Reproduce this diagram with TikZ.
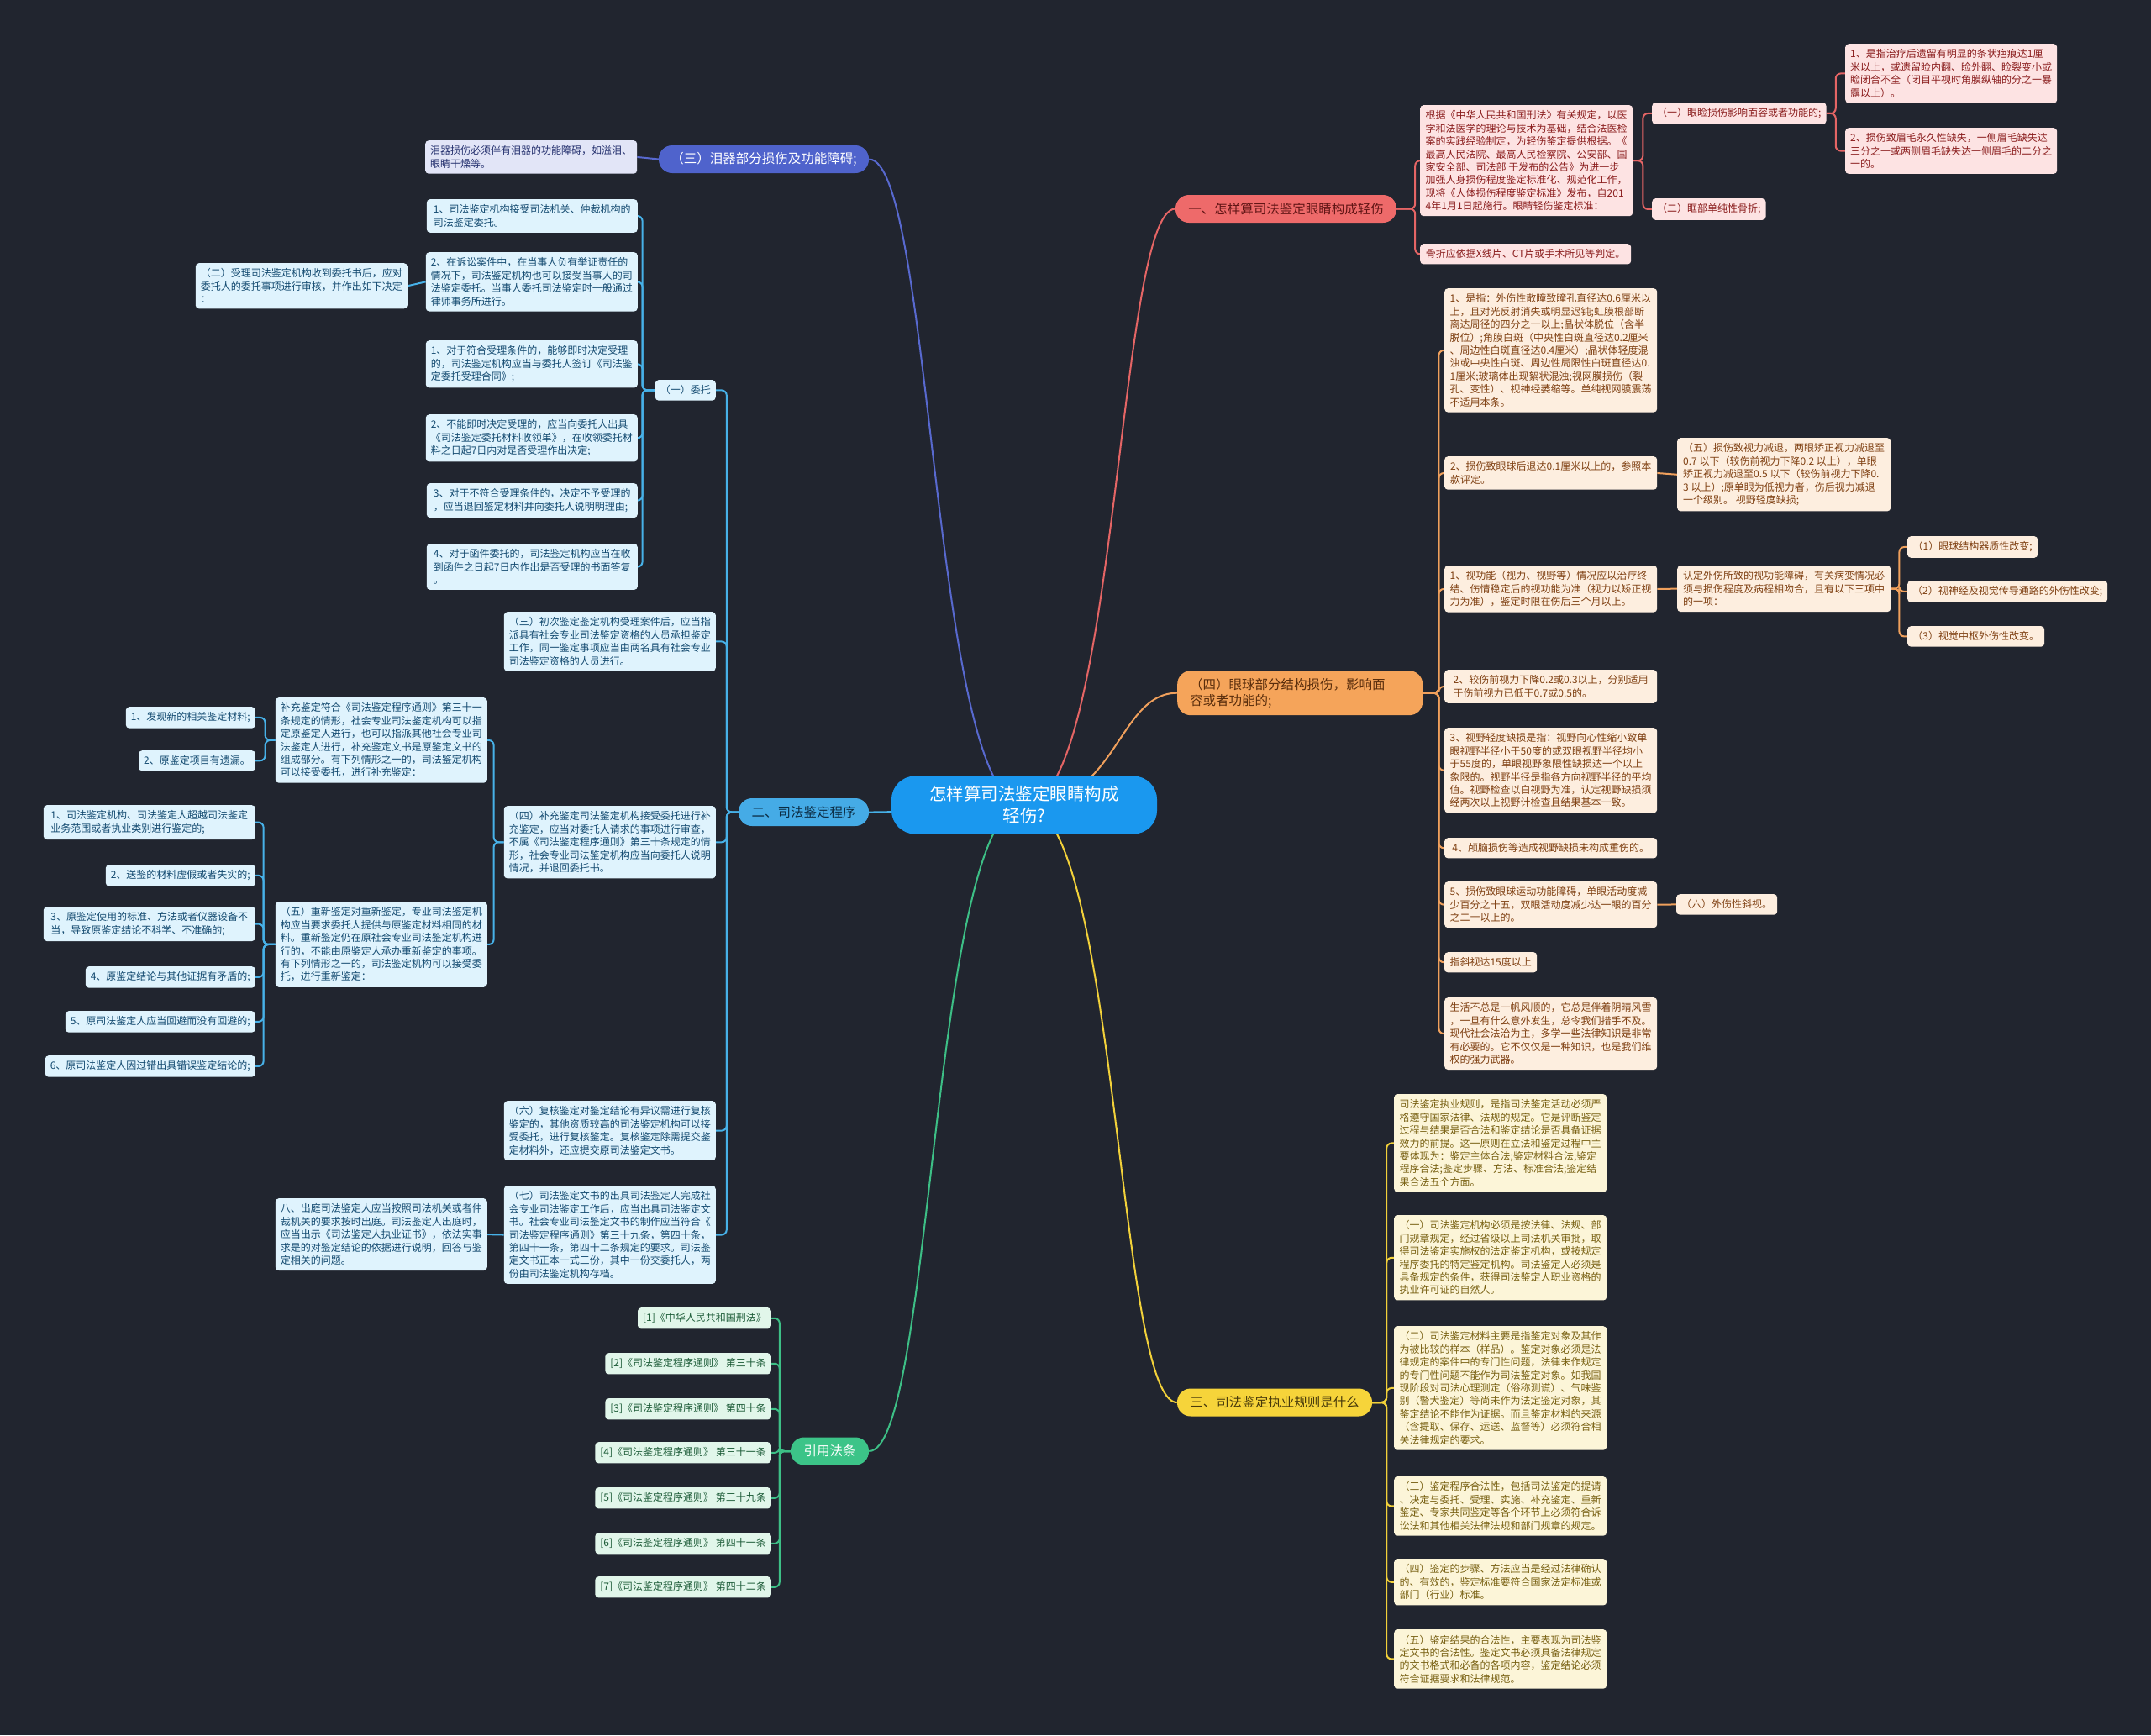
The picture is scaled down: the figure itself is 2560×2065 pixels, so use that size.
\documentclass[tikz,border=0pt]{standalone}
\usepackage{fontspec}
\setmainfont{Noto Sans CJK SC}
\usetikzlibrary{calc}
\pgfdeclarelayer{back}
\pgfdeclarelayer{bg}
\pgfsetlayers{back,bg,main}
\definecolor{bgc}{HTML}{21252F}
\definecolor{rootF}{HTML}{1A98EF}
\definecolor{redC}{HTML}{E56565}
\definecolor{redF}{HTML}{EE6A6A}
\definecolor{pinkF}{HTML}{FDE3E3}
\definecolor{pinkT}{HTML}{8B1E1E}
\definecolor{oraC}{HTML}{F0A05C}
\definecolor{oraF}{HTML}{F5A45A}
\definecolor{peachF}{HTML}{FDEEDF}
\definecolor{peachT}{HTML}{7F4012}
\definecolor{yelC}{HTML}{F2D13A}
\definecolor{yelF}{HTML}{F6D43A}
\definecolor{creamF}{HTML}{FCF5D8}
\definecolor{creamT}{HTML}{786012}
\definecolor{indC}{HTML}{5869CF}
\definecolor{indF}{HTML}{4F63CC}
\definecolor{lavF}{HTML}{E2E5F7}
\definecolor{lavT}{HTML}{24306E}
\definecolor{bluC}{HTML}{47B1E8}
\definecolor{bluF}{HTML}{45ABE6}
\definecolor{cyanF}{HTML}{DFF3FD}
\definecolor{cyanT}{HTML}{134A70}
\definecolor{grnC}{HTML}{3DBF86}
\definecolor{grnF}{HTML}{3CC488}
\definecolor{mintF}{HTML}{E1F6EA}
\definecolor{mintT}{HTML}{1D5C38}
\tikzset{
  leaf/.style={rounded corners=4pt, inner xsep=6pt, inner ysep=6.5pt, align=left,
    font=\fontsize{12}{15.4}\selectfont},
  lR/.style={leaf, fill=pinkF, text=pinkT},
  lO/.style={leaf, fill=peachF, text=peachT},
  lY/.style={leaf, fill=creamF, text=creamT},
  lI/.style={leaf, fill=lavF, text=lavT},
  lB/.style={leaf, fill=cyanF, text=cyanT},
  lG/.style={leaf, fill=mintF, text=mintT},
  brn/.style={rounded corners=16pt, minimum height=33pt, inner xsep=8pt, align=center,
    font=\fontsize{15.5}{19}\selectfont},
  con/.style={line width=2pt, rounded corners=6pt},
  cR/.style={con, draw=redC}, cO/.style={con, draw=oraC}, cY/.style={con, draw=yelC},
  cI/.style={con, draw=indC}, cB/.style={con, draw=bluC}, cG/.style={con, draw=grnC},
}
\begin{document}
\begin{tikzpicture}[x=1pt,y=-1pt]
\begin{pgfonlayer}{back}
\fill[bgc] (0,0) rectangle (2560,2065);
\end{pgfonlayer}
\useasboundingbox (0,0) rectangle (2560,2065);

% root
\node[fill=rootF, text=white, rounded corners=28pt, minimum width=316pt, minimum height=69pt,
  align=center, font=\fontsize{20.5}{26}\selectfont] (root) at (1219,958) {怎样算司法鉴定眼睛构成\\轻伤?};

% main branches
\node[brn, fill=redF, text=pinkT!70!black, minimum width=263pt] (b1) at (1530.5,248.5) {一、怎样算司法鉴定眼睛构成轻伤};
\node[brn, anchor=north west, fill=oraF, text=peachT!70!black, text width=262pt, align=left, inner xsep=15pt, minimum height=53pt] (b4) at (1401,798) {（四）眼球部分结构损伤，影响面\\容或者功能的;};
\node[brn, fill=yelF, text=creamT!60!black, minimum width=232pt] (b3) at (1517,1669) {三、司法鉴定执业规则是什么};
\node[brn, fill=indF, text=white, minimum width=250pt] (bL) at (909,189.5) {（三）泪器部分损伤及功能障碍;};
\node[brn, fill=bluF, text=cyanT!60!black, minimum width=155pt] (b2) at (956.5,966.5) {二、司法鉴定程序};
\node[brn, fill=grnF, text=white, minimum width=93pt] (bR) at (987.5,1727) {引用法条};

% ---- branch 一
\node[lR, anchor=north west, minimum width=253pt] (a1) at (1690,125) {根据《中华人民共和国刑法》有关规定，以医\\学和法医学的理论与技术为基础，结合法医检\\案的实践经验制定，为轻伤鉴定提供根据。《\\最高人民法院、最高人民检察院、公安部、国\\家安全部、司法部 于发布的公告》为进一步\\加强人身损伤程度鉴定标准化、规范化工作，\\现将《人体损伤程度鉴定标准》发布，自201\\4年1月1日起施行。眼睛轻伤鉴定标准：};
\node[lR, anchor=north west, minimum width=251pt] (a2) at (1690,290) {骨折应依据X线片、CT片或手术所见等判定。};
\node[lR, anchor=north west, minimum width=206pt] (a3) at (1966,122) {（一）眼睑损伤影响面容或者功能的;};
\node[lR, anchor=north west, minimum width=135pt] (a4) at (1966,236) {（二）眶部单纯性骨折;};
\node[lR, anchor=north west, minimum width=252pt] (a5) at (2196,52) {1、是指治疗后遗留有明显的条状疤痕达1厘\\米以上，或遗留睑内翻、睑外翻、睑裂变小或\\睑闭合不全（闭目平视时角膜纵轴的分之一暴\\露以上）。};
\node[lR, anchor=north west, minimum width=252pt] (a6) at (2196,152) {2、损伤致眉毛永久性缺失，一侧眉毛缺失达\\三分之一或两侧眉毛缺失达一侧眉毛的二分之\\一的。};

% ---- branch 四
\node[lO, anchor=north west, minimum width=253pt] (d1) at (1719,343) {1、是指：外伤性散瞳致瞳孔直径达0.6厘米以\\上，且对光反射消失或明显迟钝;虹膜根部断\\离达周径的四分之一以上;晶状体脱位（含半\\脱位）;角膜白斑（中央性白斑直径达0.2厘米\\、周边性白斑直径达0.4厘米）;晶状体轻度混\\浊或中央性白斑、周边性局限性白斑直径达0.\\1厘米;玻璃体出现絮状混浊;视网膜损伤（裂\\孔、变性）、视神经萎缩等。单纯视网膜震荡\\不适用本条。};
\node[lO, anchor=north west, minimum width=253pt] (d2) at (1719,543) {2、损伤致眼球后退达0.1厘米以上的，参照本\\款评定。};
\node[lO, anchor=north west, minimum width=254pt] (d2a) at (1996,521) {（五）损伤致视力减退，两眼矫正视力减退至\\0.7 以下（较伤前视力下降0.2 以上），单眼\\矫正视力减退至0.5 以下（较伤前视力下降0.\\3 以上）;原单眼为低视力者，伤后视力减退\\一个级别。 视野轻度缺损;};
\node[lO, anchor=north west, minimum width=253pt] (d3) at (1719,673) {1、视功能（视力、视野等）情况应以治疗终\\结、伤情稳定后的视功能为准（视力以矫正视\\力为准），鉴定时限在伤后三个月以上。};
\node[lO, anchor=north west, minimum width=254pt] (d3a) at (1996,673) {认定外伤所致的视功能障碍，有关病变情况必\\须与损伤程度及病程相吻合，且有以下三项中\\的一项：};
\node[lO, anchor=north west, minimum width=155pt] (d3b) at (2270,638) {（1）眼球结构器质性改变;};
\node[lO, anchor=north west, minimum width=237pt] (d3c) at (2270,691) {（2）视神经及视觉传导通路的外伤性改变;};
\node[lO, anchor=north west, minimum width=163pt] (d3d) at (2270,745) {（3）视觉中枢外伤性改变。};
\node[lO, anchor=north west, minimum width=253pt] (d4) at (1719,797) {2、较伤前视力下降0.2或0.3以上，分别适用\\于伤前视力已低于0.7或0.5的。};
\node[lO, anchor=north west, minimum width=253pt] (d5) at (1719,866) {3、视野轻度缺损是指：视野向心性缩小致单\\眼视野半径小于50度的或双眼视野半径均小\\于55度的，单眼视野象限性缺损达一个以上\\象限的。视野半径是指各方向视野半径的平均\\值。视野检查以白视野为准，认定视野缺损须\\经两次以上视野计检查且结果基本一致。};
\node[lO, anchor=north west, minimum width=253pt] (d6) at (1719,997) {4、颅脑损伤等造成视野缺损未构成重伤的。};
\node[lO, anchor=north west, minimum width=253pt] (d7) at (1719,1049) {5、损伤致眼球运动功能障碍，单眼活动度减\\少百分之十五，双眼活动度减少达一眼的百分\\之二十以上的。};
\node[lO, anchor=north west, minimum width=120pt] (d7a) at (1995,1064) {（六）外伤性斜视。};
\node[lO, anchor=north west, minimum width=110pt] (d8) at (1719,1133) {指斜视达15度以上};
\node[lO, anchor=north west, minimum width=253pt] (d9) at (1719,1187) {生活不总是一帆风顺的，它总是伴着阴晴风雪\\，一旦有什么意外发生，总令我们措手不及。\\现代社会法治为主，多学一些法律知识是非常\\有必要的。它不仅仅是一种知识，也是我们维\\权的强力武器。};

% ---- branch 三
\node[lY, anchor=north west, minimum width=253pt] (y1) at (1659,1302) {司法鉴定执业规则，是指司法鉴定活动必须严\\格遵守国家法律、法规的规定。它是评断鉴定\\过程与结果是否合法和鉴定结论是否具备证据\\效力的前提。这一原则在立法和鉴定过程中主\\要体现为：鉴定主体合法;鉴定材料合法;鉴定\\程序合法;鉴定步骤、方法、标准合法;鉴定结\\果合法五个方面。};
\node[lY, anchor=north west, minimum width=253pt] (y2) at (1659,1446) {（一）司法鉴定机构必须是按法律、法规、部\\门规章规定，经过省级以上司法机关审批，取\\得司法鉴定实施权的法定鉴定机构，或按规定\\程序委托的特定鉴定机构。司法鉴定人必须是\\具备规定的条件，获得司法鉴定人职业资格的\\执业许可证的自然人。};
\node[lY, anchor=north west, minimum width=253pt] (y3) at (1659,1578) {（二）司法鉴定材料主要是指鉴定对象及其作\\为被比较的样本（样品）。鉴定对象必须是法\\律规定的案件中的专门性问题，法律未作规定\\的专门性问题不能作为司法鉴定对象。如我国\\现阶段对司法心理测定（俗称测谎）、气味鉴\\别（警犬鉴定）等尚未作为法定鉴定对象，其\\鉴定结论不能作为证据。而且鉴定材料的来源\\（含提取、保存、运送、监督等）必须符合相\\关法律规定的要求。};
\node[lY, anchor=north west, minimum width=253pt] (y4) at (1659,1757) {（三）鉴定程序合法性，包括司法鉴定的提请\\、决定与委托、受理、实施、补充鉴定、重新\\鉴定、专家共同鉴定等各个环节上必须符合诉\\讼法和其他相关法律法规和部门规章的规定。};
\node[lY, anchor=north west, minimum width=253pt] (y5) at (1659,1855) {（四）鉴定的步骤、方法应当是经过法律确认\\的、有效的，鉴定标准要符合国家法定标准或\\部门（行业）标准。};
\node[lY, anchor=north west, minimum width=253pt] (y6) at (1659,1939) {（五）鉴定结果的合法性，主要表现为司法鉴\\定文书的合法性。鉴定文书必须具备法律规定\\的文书格式和必备的各项内容，鉴定结论必须\\符合证据要求和法律规范。};

% ---- 泪器
\node[lI, anchor=north west, minimum width=252pt] (L1) at (506,167) {泪器损伤必须伴有泪器的功能障碍，如溢泪、\\眼睛干燥等。};

% ---- branch 二
\node[lB, anchor=north east] (w0) at (852,452) {（一）委托};
\node[lB, anchor=north east, minimum width=251pt] (w1) at (759,237) {1、司法鉴定机构接受司法机关、仲裁机构的\\司法鉴定委托。};
\node[lB, anchor=north east, minimum width=251pt] (w2) at (759,300) {2、在诉讼案件中，在当事人负有举证责任的\\情况下，司法鉴定机构也可以接受当事人的司\\法鉴定委托。当事人委托司法鉴定时一般通过\\律师事务所进行。};
\node[lB, anchor=north east, minimum width=252pt] (w2a) at (485,313) {（二）受理司法鉴定机构收到委托书后，应对\\委托人的委托事项进行审核，并作出如下决定\\：};
\node[lB, anchor=north east, minimum width=251pt] (w3) at (759,405) {1、对于符合受理条件的，能够即时决定受理\\的，司法鉴定机构应当与委托人签订《司法鉴\\定委托受理合同》;};
\node[lB, anchor=north east, minimum width=251pt] (w4) at (759,493) {2、不能即时决定受理的，应当向委托人出具\\《司法鉴定委托材料收领单》，在收领委托材\\料之日起7日内对是否受理作出决定;};
\node[lB, anchor=north east, minimum width=251pt] (w5) at (759,575) {3、对于不符合受理条件的，决定不予受理的\\，应当退回鉴定材料并向委托人说明明理由;};
\node[lB, anchor=north east, minimum width=251pt] (w6) at (759,647) {4、对于函件委托的，司法鉴定机构应当在收\\到函件之日起7日内作出是否受理的书面答复\\。};
\node[lB, anchor=north east, minimum width=250pt] (s3) at (852,728) {（三）初次鉴定鉴定机构受理案件后，应当指\\派具有社会专业司法鉴定资格的人员承担鉴定\\工作，同一鉴定事项应当由两名具有社会专业\\司法鉴定资格的人员进行。};
\node[lB, anchor=north east, minimum width=250pt] (s4) at (852,959) {（四）补充鉴定司法鉴定机构接受委托进行补\\充鉴定，应当对委托人请求的事项进行审查，\\不属《司法鉴定程序通则》第三十条规定的情\\形，社会专业司法鉴定机构应当向委托人说明\\情况，并退回委托书。};
\node[lB, anchor=north east, minimum width=252pt] (s4a) at (580,830) {补充鉴定符合《司法鉴定程序通则》第三十一\\条规定的情形，社会专业司法鉴定机构可以指\\定原鉴定人进行，也可以指派其他社会专业司\\法鉴定人进行，补充鉴定文书是原鉴定文书的\\组成部分。有下列情形之一的，司法鉴定机构\\可以接受委托，进行补充鉴定：};
\node[lB, anchor=north east] (s4b) at (304,841) {1、发现新的相关鉴定材料;};
\node[lB, anchor=north east] (s4c) at (304,893) {2、原鉴定项目有遗漏。};
\node[lB, anchor=north east, minimum width=252pt] (s5) at (580,1073) {（五）重新鉴定对重新鉴定，专业司法鉴定机\\构应当要求委托人提供与原鉴定材料相同的材\\料。重新鉴定仍在原社会专业司法鉴定机构进\\行的，不能由原鉴定人承办重新鉴定的事项。\\有下列情形之一的，司法鉴定机构可以接受委\\托，进行重新鉴定：};
\node[lB, anchor=north east, minimum width=252pt] (r1) at (304,958) {1、司法鉴定机构、司法鉴定人超越司法鉴定\\业务范围或者执业类别进行鉴定的;};
\node[lB, anchor=north east] (r2) at (304,1029) {2、送鉴的材料虚假或者失实的;};
\node[lB, anchor=north east, minimum width=252pt] (r3) at (304,1079) {3、原鉴定使用的标准、方法或者仪器设备不\\当，导致原鉴定结论不科学、不准确的;};
\node[lB, anchor=north east] (r4) at (304,1150) {4、原鉴定结论与其他证据有矛盾的;};
\node[lB, anchor=north east] (r5) at (304,1203) {5、原司法鉴定人应当回避而没有回避的;};
\node[lB, anchor=north east] (r6) at (304,1256) {6、原司法鉴定人因过错出具错误鉴定结论的;};
\node[lB, anchor=north east, minimum width=250pt] (s6) at (852,1310) {（六）复核鉴定对鉴定结论有异议需进行复核\\鉴定的，其他资质较高的司法鉴定机构可以接\\受委托，进行复核鉴定。复核鉴定除需提交鉴\\定材料外，还应提交原司法鉴定文书。};
\node[lB, anchor=north east, minimum width=250pt] (s7) at (852,1411) {（七）司法鉴定文书的出具司法鉴定人完成社\\会专业司法鉴定工作后，应当出具司法鉴定文\\书。社会专业司法鉴定文书的制作应当符合《\\司法鉴定程序通则》第三十九条，第四十条，\\第四十一条，第四十二条规定的要求。司法鉴\\定文书正本一式三份，其中一份交委托人，两\\份由司法鉴定机构存档。};
\node[lB, anchor=north east, minimum width=252pt] (s8) at (580,1426) {八、出庭司法鉴定人应当按照司法机关或者仲\\裁机关的要求按时出庭。司法鉴定人出庭时，\\应当出示《司法鉴定人执业证书》，依法实事\\求是的对鉴定结论的依据进行说明，回答与鉴\\定相关的问题。};

% ---- 引用法条
\node[lG, anchor=north east] (g1) at (918,1556) {[1]《中华人民共和国刑法》};
\node[lG, anchor=north east] (g2) at (918,1610) {[2]《司法鉴定程序通则》 第三十条};
\node[lG, anchor=north east] (g3) at (918,1664) {[3]《司法鉴定程序通则》 第四十条};
\node[lG, anchor=north east] (g4) at (918,1716) {[4]《司法鉴定程序通则》 第三十一条};
\node[lG, anchor=north east] (g5) at (918,1770) {[5]《司法鉴定程序通则》 第三十九条};
\node[lG, anchor=north east] (g6) at (918,1824) {[6]《司法鉴定程序通则》 第四十一条};
\node[lG, anchor=north east] (g7) at (918,1876) {[7]《司法鉴定程序通则》 第四十二条};

\begin{pgfonlayer}{bg}
% root curves
\draw[cR] (root.center) .. controls (1330,958) and (1330,248.5) .. (b1.west);
\draw[cO] (root.center) .. controls (1330,958) and (1330,824.5) .. (b4.west);
\draw[cY] (root.center) .. controls (1330,958) and (1330,1669) .. (b3.west);
\draw[cI] (root.center) .. controls (1110,958) and (1110,189.5) .. (bL.east);
\draw[cB] (root.center) .. controls (1110,958) and (1110,966.5) .. (b2.east);
\draw[cG] (root.center) .. controls (1110,958) and (1110,1727) .. (bR.east);
% 一
\foreach \c in {a1,a2} \draw[cR] (b1.east) -- ++(22,0) |- (\c.west);
\foreach \c in {a3,a4} \draw[cR] (a1.east) -- ++(12,0) |- (\c.west);
\foreach \c in {a5,a6} \draw[cR] (a3.east) -- ++(11,0) |- (\c.west);
% 四
\foreach \c in {d1,d2,d3,d4,d5,d6,d7,d8,d9} \draw[cO] (b4.east) -- ++(19,0) |- (\c.west);
\draw[cO] (d2.east) -- (d2a.west);
\draw[cO] (d3.east) -- (d3a.west);
\foreach \c in {d3b,d3c,d3d} \draw[cO] (d3a.east) -- ++(10,0) |- (\c.west);
\draw[cO] (d7.east) -- (d7a.west);
% 三
\foreach \c in {y1,y2,y3,y4,y5,y6} \draw[cY] (b3.east) -- ++(17,0) |- (\c.west);
% 泪器
\draw[cI] (bL.west) -- (L1.east);
% 二
\foreach \c in {w0,s3,s4,s6,s7} \draw[cB] (b2.west) -- ++(-14,0) |- (\c.east);
\foreach \c in {w1,w2,w3,w4,w5,w6} \draw[cB] (w0.west) -- ++(-15,0) |- (\c.east);
\draw[cB] (w2.west) -- (w2a.east);
\foreach \c in {s4a,s5} \draw[cB] (s4.west) -- ++(-12,0) |- (\c.east);
\foreach \c in {s4b,s4c} \draw[cB] (s4a.west) -- ++(-12,0) |- (\c.east);
\foreach \c in {r1,r2,r3,r4,r5,r6} \draw[cB] (s5.west) -- ++(-14,0) |- (\c.east);
\draw[cB] (s7.west) -- (s8.east);
% 引用
\foreach \c in {g1,g2,g3,g4,g5,g6,g7} \draw[cG] (bR.west) -- ++(-13,0) |- (\c.east);
\end{pgfonlayer}
\end{tikzpicture}
\end{document}
